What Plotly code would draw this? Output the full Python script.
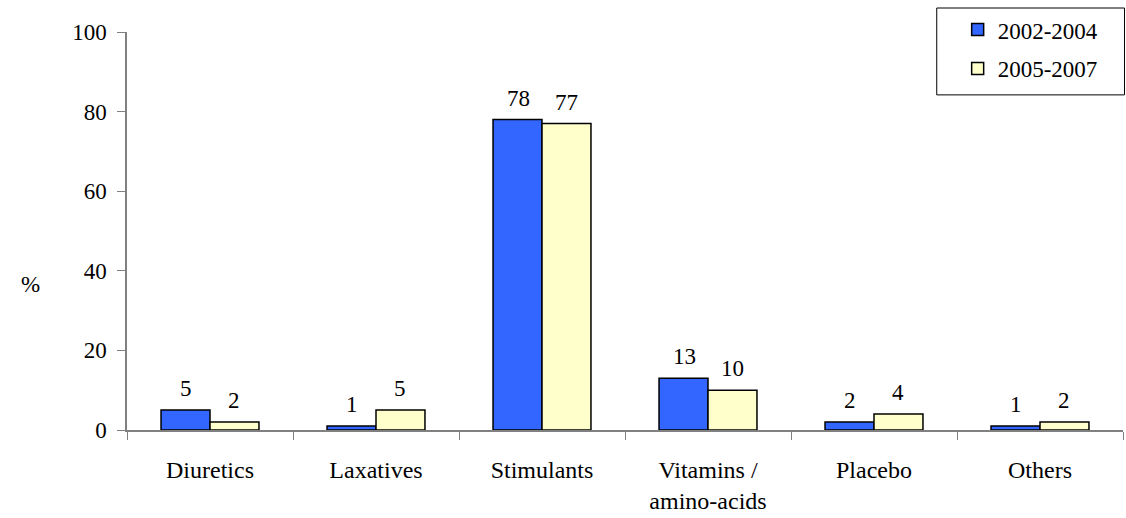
import plotly.graph_objects as go

categories = ["Diuretics", "Laxatives", "Stimulants", "Vitamins /<br>amino-acids", "Placebo", "Others"]
series_names = ["2002-2004", "2005-2007"]
values_2002_2004 = [5, 1, 78, 13, 2, 1]
values_2005_2007 = [2, 5, 77, 10, 4, 2]
y_ticks = [0, 20, 40, 60, 80, 100]

FONT = "Times New Roman, Liberation Serif, DejaVu Serif, serif"
FS = 24
AXIS_GREY = "#808080"
series = [
    (series_names[0], values_2002_2004, "#3366FF", -24),
    (series_names[1], values_2005_2007, "#FFFFCC", 24),
]

fig = go.Figure()
for name, vals, color, _ in series:
    fig.add_trace(go.Bar(
        name=name,
        legendgroup=name,
        x=categories,
        y=vals,
        marker=dict(color=color, line=dict(color="black", width=1.5)),
    ))

# value labels above each bar
for name, vals, color, dx in series:
    for cat, v in zip(categories, vals):
        fig.add_annotation(
            x=cat, y=v, xref="x", yref="y", text=str(v),
            showarrow=False, xanchor="center", yanchor="bottom",
            xshift=dx, yshift=7,
            font=dict(family=FONT, size=FS - 1, color="black"),
        )

fig.update_layout(
    width=1126, height=518,
    margin=dict(l=127, r=3, t=32, b=88),
    paper_bgcolor="white", plot_bgcolor="white",
    barmode="group", bargap=0.41, bargroupgap=0,
    font=dict(family=FONT, size=FS, color="black"),
    showlegend=True,
    legend=dict(
        x=0.834, y=1.06, xanchor="left", yanchor="top",
        borderwidth=0, bgcolor="rgba(0,0,0,0)",
        font=dict(family=FONT, size=FS - 1),
        itemwidth=30, tracegroupgap=6,
    ),
)

# frame around the legend
fig.add_shape(
    type="rect", xref="paper", yref="paper",
    x0=0.813, x1=1.0015, y0=0.842, y1=1.0603,
    line=dict(color="black", width=1), fillcolor="rgba(0,0,0,0)",
    layer="below",
)

fig.update_xaxes(
    type="category", tickson="boundaries",
    showline=True, linecolor=AXIS_GREY, linewidth=1.5,
    ticks="outside", ticklen=8, tickcolor=AXIS_GREY, tickwidth=1,
    ticklabelstandoff=17,
    showgrid=False, zeroline=False,
    tickfont=dict(family=FONT, size=FS),
)
fig.update_yaxes(
    range=[0, 100], tickvals=y_ticks,
    showline=True, linecolor=AXIS_GREY, linewidth=1.5,
    ticks="outside", ticklen=8, tickcolor=AXIS_GREY, tickwidth=1,
    ticklabelstandoff=6,
    showgrid=False, zeroline=False,
    tickfont=dict(family=FONT, size=FS - 1),
)

fig.add_annotation(
    text="%", xref="paper", yref="paper", x=-0.097, y=0.365,
    xanchor="center", yanchor="middle", showarrow=False,
    font=dict(family=FONT, size=FS - 1),
)

fig.write_html("out.html")
